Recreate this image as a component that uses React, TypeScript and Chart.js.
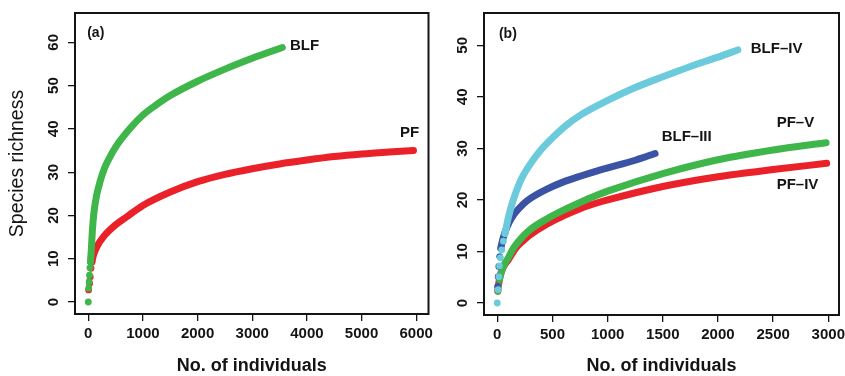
import React, { useEffect, useRef } from "react";
import { Chart, registerables } from "chart.js";

Chart.register(...registerables);

// ---------- Panel (a) data ----------
const blfX = [0, 8, 15, 22, 30, 40, 55, 75, 100, 150, 220, 300, 400, 500, 750, 1000, 1250, 1500, 2000, 2500, 3000, 3550];
const blfY = [0, 3.2, 4.7, 6.2, 7.9, 9.3, 12, 16.5, 20.3, 24.5, 28, 31, 33.6, 35.8, 39.9, 43.2, 45.6, 47.7, 51, 53.8, 56.3, 58.8];
const pfX = [6, 24, 36, 49, 67, 97, 158, 280, 462, 706, 1000, 1500, 2000, 2500, 3000, 3500, 4000, 4500, 5000, 5500, 5950];
const pfY = [2.8, 4.3, 5.8, 7.8, 9.3, 10.9, 12.8, 15.1, 17.4, 19.7, 22.3, 25.4, 27.8, 29.5, 30.8, 31.9, 32.8, 33.6, 34.2, 34.65, 35];

// ---------- Panel (b) data ----------
const blf4X = [0, 8, 14, 20, 28, 40, 55, 70, 100, 145, 200, 236, 300, 387, 508, 620, 750, 991, 1250, 1500, 1750, 2000, 2180];
const blf4Y = [0, 2.6, 5.1, 7.2, 8.8, 10.3, 12, 13.5, 16.6, 20, 23.2, 24.8, 27, 29.5, 32.2, 34.4, 36.4, 39.2, 41.8, 43.9, 45.9, 47.7, 49.1];
const blf3X = [3, 8, 14, 22, 32, 50, 85, 145, 236, 300, 450, 600, 750, 900, 1000, 1250, 1430];
const blf3Y = [3.2, 5.1, 7.1, 9, 10.6, 12.4, 14.6, 17, 19.2, 20.3, 22.1, 23.5, 24.6, 25.6, 26.2, 27.7, 29];
const pf5X = [5, 10, 20, 35, 55, 100, 145, 206, 296, 448, 600, 750, 901, 1000, 1500, 2000, 2500, 2980];
const pf5Y = [2.3, 3.3, 4.6, 5.9, 7.1, 8.8, 10.6, 12.3, 14.2, 16.3, 18, 19.5, 20.9, 21.7, 25.1, 27.8, 29.7, 31.1];
const pf4X = [5, 10, 20, 35, 55, 100, 166, 230, 296, 448, 598, 750, 901, 1000, 1500, 2000, 2500, 2985];
const pf4Y = [2.3, 3.3, 4.6, 5.9, 7, 8.4, 10.6, 12, 13.2, 15.3, 16.9, 18.3, 19.4, 20, 22.6, 24.5, 25.9, 27.1];

// ---------- Tick labels ----------
const xTicksA = [0, 1000, 2000, 3000, 4000, 5000, 6000];
const yTicksA = [0, 10, 20, 30, 40, 50, 60];
const xTicksB = [0, 500, 1000, 1500, 2000, 2500, 3000];
const yTicksB = [0, 10, 20, 30, 40, 50];

const xTitle = "No. of individuals";
const yTitle = "Species richness";

// ---------- Styles ----------
const GREEN = "#3fb64a";
const RED = "#ea2129";
const CYAN = "#6bcbdc";
const BLUE = "#3a53a4";
const INK = "#141414";
const FAMILY = "'Liberation Sans', Arial, sans-serif";

const zip = (xs: number[], ys: number[]) => xs.map((x, i) => ({ x, y: ys[i] }));

function series(label: string, xs: number[], ys: number[], color: string, dots: number, order: number) {
  return {
    label,
    data: zip(xs, ys),
    borderColor: color,
    backgroundColor: color,
    borderWidth: 7,
    borderCapStyle: "round",
    borderJoinStyle: "round",
    cubicInterpolationMode: "monotone",
    pointRadius: (c: any) => (c.dataIndex < dots ? 3.4 : 0),
    pointBorderWidth: 0,
    pointBackgroundColor: color,
    segment: {
      borderColor: (c: any) => (c.p1DataIndex < dots ? "rgba(0,0,0,0)" : color),
    },
    order,
  };
}

const boxAndLabels = {
  id: "boxAndLabels",
  afterDatasetsDraw(chart: any, _args: any, opts: any) {
    const { ctx, chartArea, scales } = chart;
    ctx.save();
    ctx.strokeStyle = INK;
    ctx.lineWidth = 2;
    ctx.strokeRect(chartArea.left, chartArea.top, chartArea.right - chartArea.left, chartArea.bottom - chartArea.top);
    ctx.fillStyle = INK;
    ctx.textBaseline = "middle";
    for (const a of opts.annotations || []) {
      ctx.font = a.font;
      ctx.textAlign = a.align;
      ctx.fillText(a.text, scales.x.getPixelForValue(a.x), scales.y.getPixelForValue(a.y));
    }
    ctx.restore();
  },
};

const tickFont = { family: FAMILY, weight: "bold" as const, size: 15 };
const gridOpts = { display: true, drawOnChartArea: false, drawTicks: true, tickLength: 7, color: INK, lineWidth: 1.3 };

function makeConfig(p: {
  datasets: any[];
  xMin: number; xMax: number; yMin: number; yMax: number;
  xTicks: number[]; yTicks: number[];
  yAxisWidth: number; xAxisHeight: number;
  padding: any; showYTitle: boolean; annotations: any[];
}) {
  return {
    type: "line" as const,
    data: { datasets: p.datasets },
    plugins: [boxAndLabels],
    options: {
      responsive: false,
      maintainAspectRatio: false,
      animation: false as const,
      layout: { padding: p.padding },
      plugins: {
        legend: { display: false },
        tooltip: { enabled: false },
        boxAndLabels: { annotations: p.annotations },
      },
      scales: {
        x: {
          type: "linear" as const,
          position: "bottom" as const,
          min: p.xMin,
          max: p.xMax,
          border: { display: false },
          grid: gridOpts,
          afterBuildTicks: (s: any) => { s.ticks = p.xTicks.map((v) => ({ value: v })); },
          afterFit: (s: any) => { s.height = p.xAxisHeight; s.paddingLeft = 0; s.paddingRight = 0; },
          ticks: {
            autoSkip: false, maxRotation: 0, minRotation: 0, padding: 4,
            color: INK, font: tickFont,
            callback: (v: any) => String(v),
          },
          title: {
            display: true, text: xTitle, color: INK,
            font: { family: FAMILY, weight: "bold" as const, size: 18 },
            padding: { top: 0, bottom: -1 },
          },
        },
        y: {
          type: "linear" as const,
          position: "left" as const,
          min: p.yMin,
          max: p.yMax,
          border: { display: false },
          grid: gridOpts,
          afterBuildTicks: (s: any) => { s.ticks = p.yTicks.map((v) => ({ value: v })); },
          afterFit: (s: any) => { s.width = p.yAxisWidth; s.paddingTop = 0; s.paddingBottom = 0; },
          ticks: {
            autoSkip: false, minRotation: 90, maxRotation: 90, crossAlign: "center" as const, padding: 6,
            color: INK, font: tickFont,
            callback: (v: any) => String(v),
          },
          title: {
            display: p.showYTitle, text: yTitle, color: INK,
            font: { family: FAMILY, size: 19.5 },
            padding: { top: 6, bottom: 0 },
          },
        },
      },
    },
  };
}

const labFont = `bold 15px ${FAMILY}`;
const panelFont = `bold 14px ${FAMILY}`;

export default function App() {
  const refA = useRef<HTMLCanvasElement | null>(null);
  const refB = useRef<HTMLCanvasElement | null>(null);

  useEffect(() => {
    const chartA = new Chart(refA.current as HTMLCanvasElement, makeConfig({
      datasets: [
        series("BLF", blfX, blfY, GREEN, 6, 1),
        series("PF", pfX, pfY, RED, 5, 2),
      ],
      xMin: -243, xMax: 6225, yMin: -2.77, yMax: 66.77,
      xTicks: xTicksA, yTicks: yTicksA,
      yAxisWidth: 75, xAxisHeight: 62,
      padding: { left: 0, top: 13, right: 16.5, bottom: 0 },
      showYTitle: true,
      annotations: [
        { text: "(a)", x: -20, y: 62.2, align: "left", font: panelFont },
        { text: "BLF", x: 3690, y: 59.1, align: "left", font: labFont },
        { text: "PF", x: 5880, y: 39.1, align: "center", font: labFont },
      ],
    }) as any);

    const chartB = new Chart(refB.current as HTMLCanvasElement, makeConfig({
      datasets: [
        series("BLF-IV", blf4X, blf4Y, CYAN, 8, 1),
        series("BLF-III", blf3X, blf3Y, BLUE, 5, 2),
        series("PF-V", pf5X, pf5Y, GREEN, 3, 3),
        series("PF-IV", pf4X, pf4Y, RED, 0, 4),
      ],
      xMin: -120.5, xMax: 3097, yMin: -2.33, yMax: 56.27,
      xTicks: xTicksB, yTicks: yTicksB,
      yAxisWidth: 54, xAxisHeight: 61,
      padding: { left: 0, top: 13, right: 6, bottom: 0 },
      showYTitle: false,
      annotations: [
        { text: "(b)", x: 15, y: 52.1, align: "left", font: panelFont },
        { text: "BLF\u2013IV", x: 2297, y: 49.3, align: "left", font: labFont },
        { text: "BLF\u2013III", x: 1490, y: 32.3, align: "left", font: labFont },
        { text: "PF\u2013V", x: 2532, y: 35, align: "left", font: labFont },
        { text: "PF\u2013IV", x: 2532, y: 22.9, align: "left", font: labFont },
      ],
    }) as any);

    return () => {
      chartA.destroy();
      chartB.destroy();
    };
  }, []);

  return (
    <div style={{ position: "fixed", left: 0, top: 0, width: 845, height: 376, background: "#fff", overflow: "hidden" }}>
      <canvas ref={refA} width={445} height={376} style={{ position: "absolute", left: 0, top: 0 }} />
      <canvas ref={refB} width={415} height={376} style={{ position: "absolute", left: 430, top: 0 }} />
    </div>
  );
}
